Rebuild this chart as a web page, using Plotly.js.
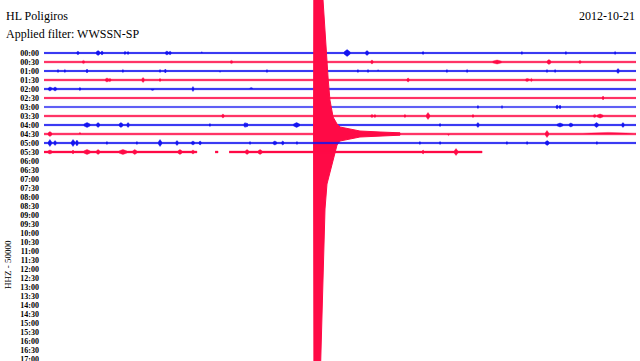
<!DOCTYPE html>
<html>
<head>
<meta charset="utf-8">
<script src="https://cdn.plot.ly/plotly-3.0.1.min.js"></script>
<style>html,body{margin:0;padding:0;background:#fff;}#chart{width:640px;height:361px;}</style>
</head>
<body>
<div id="chart"></div>
<script>
// ---- data ----
const station = "HL Poligiros";
const filterText = "Applied filter: WWSSN-SP";
const dateText = "2012-10-21";
const channelText = "HHZ - 50000";

const rowLabels = ["00:00","00:30","01:00","01:30","02:00","02:30","03:00","03:30","04:00","04:30",
  "05:00","05:30","06:00","06:30","07:00","07:30","08:00","08:30","09:00","09:30","10:00","10:30",
  "11:00","11:30","12:00","12:30","13:00","13:30","14:00","14:30","15:00","15:30","16:00","16:30","17:00"];

// amplitude counts per row spacing
const ampPerRow = 9;

// background noise level of each recorded row
const rowBase = [0.65, 0.8, 0.65, 0.8, 0.75, 0.7, 0.6, 0.8, 0.7, 0.85, 0.7, 0.9];

// recorded segments per row [start min, end min]
const rowSegments = [
  [[0,30]],[[0,30]],[[0,30]],[[0,30]],[[0,30]],[[0,30]],
  [[0,30]],[[0,30]],[[0,30]],[[0,30]],[[0,30]],
  [[0,7.75],[8.67,8.82],[9.38,22.2]]
];

// bursts per row: [minute, amplitude, half-duration (min)]
const row0 = [[1.72,1.8,0.08],[2.74,2.5,0.12],[2.94,2,0.08],[4.10,1.6,0.06],[4.26,1.6,0.06],[6.23,2,0.1],[6.39,1.8,0.08],[8.0,1.3,0.05],[9.07,1.3,0.05],[15.36,3.5,0.18],[16.37,2.5,0.1],[19.21,1.5,0.06],[24.22,1.6,0.05],[26.45,1.6,0.05],[28.94,1.6,0.05]];
const row1 = [[2.0,1.6,0.08],[9.5,1.6,0.08],[11.5,1.5,0.08],[16.62,2,0.08],[22.96,2,0.25],[25.59,2.5,0.12],[27.16,1.6,0.08]];
const row2 = [[0.71,1.6,0.05],[1.06,1.6,0.05],[2.18,2,0.06],[4.00,1.6,0.05],[5.88,1.6,0.05],[6.15,2,0.06],[8.92,1.3,0.05],[11.30,1.5,0.05],[15.91,1.6,0.05],[16.42,1.6,0.05],[16.93,1.3,0.05],[20.42,1.6,0.05],[21.44,1.6,0.05],[25.49,1.6,0.05],[25.90,1.6,0.05],[29.09,2.5,0.08]];
const row3 = [[3.19,2,0.1],[3.34,1.6,0.08],[5.02,2.5,0.08],[5.88,1.6,0.06],[18.45,2,0.08],[24.48,1.6,0.1],[24.70,1.6,0.06]];
const row4 = [[0.30,2,0.1],[0.56,2,0.1],[1.82,1.6,0.06],[3.5,1.4,0.1],[5.5,1.4,0.1],[7.55,2.5,0.06],[10.5,1.4,0.1],[13.0,1.4,0.1],[17.5,1.4,0.1],[21,1.4,0.1],[26,1.4,0.1],[29,1.4,0.1]];
const row5 = [[6.0,1.2,0.08],[10.0,1.2,0.08],[28.33,2,0.06]];
const row6 = [[21.99,1.6,0.06],[23.21,1.5,0.05],[26.0,2,0.08],[26.15,2,0.06]];
const row7 = [[9.07,2,0.08],[16.62,1.6,0.08],[16.77,1.6,0.06],[18.29,1.6,0.06],[19.46,3.5,0.1],[21.74,1.6,0.06],[27.9,1.6,0.08],[28.18,2,0.18]];
const row8 = [[2.18,2.5,0.18],[2.74,2.5,0.1],[3.9,2.5,0.12],[4.26,2.5,0.08],[8.41,1.6,0.05],[10.19,2.5,0.08],[10.29,2,0.06],[12.8,2.5,0.18],[20.07,1.6,0.06],[21.99,2.5,0.08],[26.15,2,0.18],[26.7,2,0.12],[28.0,2.5,0.12],[29.34,2.5,0.08]];
const row9 = [[0.30,2.5,0.12],[1.82,1.6,0.06],[6.23,1.6,0.06],[7.04,1.6,0.06],[9.07,1.6,0.06],[12.11,1.6,0.06],[13.33,1.5,0.05],[20.5,1.6,0.06],[25.49,3.5,0.1],[28.6,1.6,1.3]];
const row10 = [[0.30,3.5,0.1],[0.56,2.5,0.08],[1.47,3.5,0.1],[1.67,3,0.08],[3.19,1.6,0.05],[4.71,1.6,0.05],[5.88,3.5,0.1],[6.74,2.5,0.08],[7.55,2,0.1],[7.91,2,0.08],[10.44,1.6,0.05],[11.7,2,0.12],[12.1,2,0.08],[12.82,1.6,0.05],[19.05,1.6,0.05],[20.07,1.6,0.05],[23.46,1.6,0.05],[24.48,1.6,0.05],[25.5,2.5,0.12],[28.02,1.6,0.05]];
const row11 = [[0.30,2,0.12],[1.47,2,0.06],[2.18,2.5,0.18],[2.74,2.5,0.1],[4.0,2.5,0.22],[4.6,2.5,0.12],[6.89,2.5,0.12],[7.55,2,0.08],[10.29,2.5,0.1],[10.95,2.5,0.12],[12.31,1.6,0.06],[13.0,1.6,0.08],[16.0,1.6,0.06],[18.0,1.6,0.06],[19.21,2,0.06],[20.88,3.5,0.1]];
const rowBursts = [row0,row1,row2,row3,row4,row5,row6,row7,row8,row9,row10,row11];

// earthquake in row 04:30 (index 9): envelope above / below the trace line
const quakeRow = 9;
const quakeT    = [13.66, 13.68, 13.99, 14.04, 14.09, 14.14, 14.24, 14.34, 14.40, 14.49, 14.65, 14.85, 15.00, 15.51, 16.01, 17.03, 18.04];
const quakeUp   = [0, 200, 200, 200, 200, 134, 100, 67, 55, 34, 17, 10, 7, 5, 3, 2, 1.2];
const quakeDown = [0, 250, 250, 200, 165, 135, 75, 50, 44, 38, 27, 11, 7, 5, 3, 2, 1.2];

// ---- styles ----
const BLUE = "#1414f0";
const RED = "#ff0a46";

function envelope(seg, bursts, base) {
  const pts = new Set([seg[0], seg[1]]);
  bursts.forEach(b => { [b[0]-b[2], b[0], b[0]+b[2]].forEach(t => { if (t > seg[0] && t < seg[1]) pts.add(t); }); });
  const ts = Array.from(pts).sort((a,b)=>a-b);
  const amp = ts.map(t => {
    let a = base;
    bursts.forEach(b => {
      const d = Math.abs(t - b[0]);
      if (d <= b[2]) { const v = b[1] - (b[1]-base) * d / b[2]; if (v > a) a = v; }
    });
    return a;
  });
  return {ts, amp};
}

const traces = [];
for (let r = 0; r < rowBursts.length; r++) {
  const color = r % 2 === 0 ? BLUE : RED;
  const xs = [], ys = [];
  rowSegments[r].forEach(seg => {
    const e = envelope(seg, rowBursts[r], rowBase[r]);
    e.ts.forEach((t,i) => { xs.push(t); ys.push(r - e.amp[i]/ampPerRow); });
    for (let i = e.ts.length-1; i >= 0; i--) { xs.push(e.ts[i]); ys.push(r + e.amp[i]/ampPerRow); }
    xs.push(null); ys.push(null);
  });
  traces.push({x: xs, y: ys, type: 'scatter', mode: 'lines', fill: 'toself', fillcolor: color,
    line: {color: color, width: 0.4}, hoverinfo: 'skip', showlegend: false});
  if (r === quakeRow) {
    const qx = [], qy = [];
    quakeT.forEach((t,i) => { qx.push(t); qy.push(quakeRow - quakeUp[i]/ampPerRow); });
    for (let i = quakeT.length-1; i >= 0; i--) { qx.push(quakeT[i]); qy.push(quakeRow + quakeDown[i]/ampPerRow); }
    traces.push({x: qx, y: qy, type: 'scatter', mode: 'lines', fill: 'toself', fillcolor: RED,
      line: {color: RED, width: 1}, hoverinfo: 'skip', showlegend: false});
  }
}

const tickVals = rowLabels.map((_, i) => i);
const W = 640, H = 361, L = 44, R = 4;
const layout = {
  width: W, height: H,
  margin: {l: L, r: R, t: 0, b: 0, pad: 0},
  paper_bgcolor: '#fff', plot_bgcolor: '#fff',
  xaxis: {range: [0, 30], showgrid: false, zeroline: false, showline: false, showticklabels: false, ticks: '', fixedrange: true},
  yaxis: {range: [34.222, -5.889], showgrid: false, zeroline: false, showline: false, color: '#000',
    tickmode: 'array', tickvals: tickVals, ticktext: rowLabels, ticks: '', ticklabelstandoff: 4,
    ticklabeloverflow: 'allow',
    tickfont: {family: 'Liberation Serif', size: 8, color: '#000', weight: 'bold'}, fixedrange: true},
  annotations: [
    {text: station, xref: 'paper', yref: 'paper', x: -40/592, y: 1 - 16/361, xanchor: 'left', yanchor: 'middle', showarrow: false, font: {family: 'Liberation Serif', size: 12, color: '#000'}},
    {text: filterText, xref: 'paper', yref: 'paper', x: -40/592, y: 1 - 34/361, xanchor: 'left', yanchor: 'middle', showarrow: false, font: {family: 'Liberation Serif', size: 12, color: '#000'}},
    {text: dateText, xref: 'paper', yref: 'paper', x: 1 + 1/592, y: 1 - 16/361, xanchor: 'right', yanchor: 'middle', showarrow: false, font: {family: 'Liberation Serif', size: 12, color: '#000'}},
    {text: channelText, xref: 'paper', yref: 'paper', x: -36/592, y: 1 - 265/361, xanchor: 'center', yanchor: 'middle', textangle: -90, showarrow: false, font: {family: 'Liberation Serif', size: 9, color: '#000'}}
  ]
};
Plotly.newPlot('chart', traces, layout, {staticPlot: true, displayModeBar: false});
</script>
</body>
</html>
